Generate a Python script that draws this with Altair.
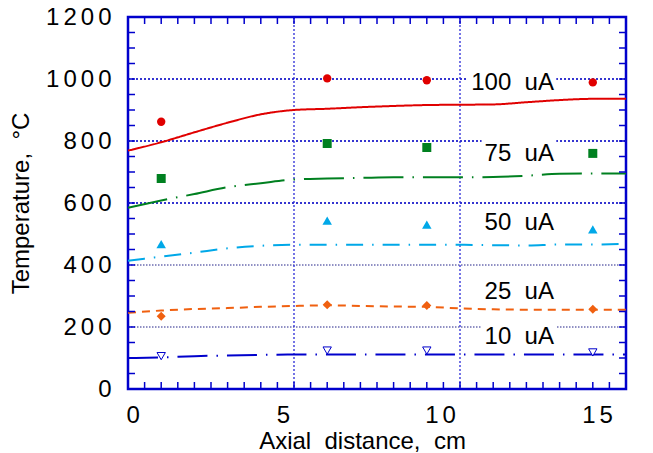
import altair as alt
import pandas as pd

# ---------------- data ----------------
pt_x = [1, 6, 9, 14]
pts_100 = [862, 1002, 996, 989]
pts_75 = [679, 792, 779, 760]
pts_50 = [467, 543, 530, 515]
pts_25 = [235, 272, 269, 257]
pts_10 = [106, 124, 124, 118]

line_x = [0, 1, 2, 3, 4, 5, 6, 7, 8, 9, 10, 11, 12, 13, 14, 15]
line_100 = [769, 796, 828, 859, 886, 900, 904, 909, 913, 916, 917, 918, 925, 932, 936, 936]
line_75 = [585, 608, 629, 651, 664, 676, 679, 681, 683, 683, 683, 684, 688, 694, 695, 695]
line_50 = [414, 427, 440, 454, 462, 465, 465, 465, 465, 465, 465, 464, 463, 466, 466, 468]
line_25 = [246, 253, 258, 261, 265, 268, 270, 268, 266, 265, 260, 257, 256, 256, 256, 256]
line_10 = [100, 102, 106, 108, 110, 111, 111, 111, 111, 111, 111, 111, 111, 111, 111, 111]

label_text = ["100\u00a0\u00a0uA", "75\u00a0\u00a0uA", "50\u00a0\u00a0uA", "25\u00a0\u00a0uA", "10\u00a0\u00a0uA"]
label_x = [12.83, 12.83, 12.83, 12.83, 12.83]
label_y = [987, 758, 535, 313, 168]

box_x1 = [10.2, 10.65, 10.65]
box_x2 = [12.9, 12.9, 12.9]
box_y1 = [950, 720, 130]
box_y2 = [1030, 815, 210]

grid_y_major = [600, 800, 1000]
grid_y_minor = [200, 400]
grid_x = [5, 10]
x_minor_ticks = [i * 0.5 for i in range(1, 30)]
y_minor_ticks = [i * 50 for i in range(1, 24)]
x_label_values = [0, 5, 10, 15]
y_label_values = [0, 200, 400, 600, 800, 1000, 1200]

# ---------------- styling ----------------
W, H = 498, 372
BLUE = "#0000cc"
FONT = "Liberation Sans"
SP = "\u2006"
spaced = "join(split(datum.label, ''), '" + SP + "')"


def xs():
    return alt.Scale(domain=[0, 15], nice=False, zero=False)


ys = alt.Scale(domain=[0, 1200], nice=False, zero=False)
YAX = alt.Axis(values=y_label_values, format="d", labelExpr=spaced, labelPadding=17,
               title="Temperature,\u00a0\u00a0°C", titlePadding=12)


def X(f="x"):
    return alt.X(f"{f}:Q", scale=xs(), axis=None)


def Y(f="y"):
    return alt.Y(f"{f}:Q", scale=ys, axis=YAX)


layers = []

# grid lines
layers.append(alt.Chart(pd.DataFrame({"y": grid_y_major})).mark_rule(
    color="#3535d0", strokeWidth=2, strokeDash=[2, 2]).encode(y=Y(), x=alt.value(0), x2=alt.value(W)))
layers.append(alt.Chart(pd.DataFrame({"y": grid_y_minor})).mark_rule(
    color="#222288", strokeWidth=1, strokeDash=[1.5, 1.5]).encode(y=Y(), x=alt.value(0), x2=alt.value(W)))
layers.append(alt.Chart(pd.DataFrame({"x": grid_x})).mark_rule(
    color="#2a2ad8", strokeWidth=1.3, strokeDash=[2, 2]).encode(x=X(), y=alt.value(0), y2=alt.value(H)))

# white boxes behind labels
layers.append(alt.Chart(pd.DataFrame({"x": box_x1, "x2": box_x2, "y": box_y1, "y2": box_y2})).mark_rect(
    color="white").encode(x=X(), x2="x2:Q", y=Y(), y2="y2:Q"))

# model lines
line_specs = [
    (line_100, "#e00000", [1, 0]),
    (line_75, "#008020", [40, 9, 1.5, 9]),
    (line_50, "#00a8e8", [17, 9, 1.5, 9]),
    (line_25, "#f06010", [8, 6]),
    (line_10, BLUE, [30, 9, 1.5, 9]),
]
for vals, col, dash in line_specs:
    layers.append(alt.Chart(pd.DataFrame({"x": line_x, "y": vals})).mark_line(
        interpolate="monotone", color=col, strokeWidth=2, strokeDash=dash).encode(x=X(), y=Y()))

# measured points
layers.append(alt.Chart(pd.DataFrame({"x": pt_x, "y": pts_100})).mark_point(
    shape="circle", filled=True, color="#e00000", size=70, opacity=1).encode(x=X(), y=Y()))
layers.append(alt.Chart(pd.DataFrame({"x": pt_x, "y": pts_75})).mark_point(
    shape="square", filled=True, color="#008020", size=81, opacity=1).encode(x=X(), y=Y()))
layers.append(alt.Chart(pd.DataFrame({"x": pt_x, "y": pts_50})).mark_point(
    shape="triangle-up", filled=True, color="#00a8e8", size=90, opacity=1).encode(x=X(), y=Y()))
layers.append(alt.Chart(pd.DataFrame({"x": pt_x, "y": pts_25})).mark_point(
    shape="diamond", filled=True, color="#f06010", size=81, opacity=1).encode(x=X(), y=Y()))
layers.append(alt.Chart(pd.DataFrame({"x": pt_x, "y": pts_10})).mark_point(
    shape="triangle-down", fill="white", fillOpacity=1, stroke=BLUE, strokeWidth=1,
    size=70, opacity=1).encode(x=X(), y=Y()))

# labels
layers.append(alt.Chart(pd.DataFrame({"x": label_x, "y": label_y, "t": label_text})).mark_text(
    align="right", baseline="middle", fontSize=24, font=FONT, color="black").encode(
    x=X(), y=Y(), text="t:N"))

# inner ticks on all four sides
layers.append(alt.Chart(pd.DataFrame({"x": x_minor_ticks})).mark_rule(
    color=BLUE, strokeWidth=1.5).encode(x=X(), y=alt.value(0), y2=alt.value(7)))
layers.append(alt.Chart(pd.DataFrame({"x": x_minor_ticks})).mark_rule(
    color=BLUE, strokeWidth=1.5).encode(x=X(), y=alt.value(H), y2=alt.value(H - 7)))
layers.append(alt.Chart(pd.DataFrame({"y": y_minor_ticks})).mark_rule(
    color=BLUE, strokeWidth=1.5).encode(y=Y(), x=alt.value(0), x2=alt.value(7)))
layers.append(alt.Chart(pd.DataFrame({"y": y_minor_ticks})).mark_rule(
    color=BLUE, strokeWidth=1.5).encode(y=Y(), x=alt.value(W), x2=alt.value(W - 7)))

# x axis labels (placed as in the reference, slightly compressed spacing)
layers.append(alt.Chart(pd.DataFrame({"x": x_label_values})).mark_point(opacity=0).encode(
    x=alt.X("x:Q", scale=alt.Scale(domain=[0, 15.86], nice=False, zero=False),
            axis=alt.Axis(values=x_label_values, orient="bottom", labelExpr=spaced,
                          labelOffset=-2, labelPadding=14,
                          title="Axial\u00a0\u00a0distance,\u00a0\u00a0cm", titlePadding=2,
                          titleX=234)),
    y=alt.value(0),
))

chart = alt.layer(*layers).resolve_scale(x="independent").properties(
    width=W, height=H,
    autosize=alt.AutoSizeParams(type="none"),
    padding={"left": 128, "top": 17, "right": 27, "bottom": 64},
).configure(font=FONT).configure_view(stroke=BLUE, strokeWidth=2.5).configure_axis(
    labelFont=FONT, titleFont=FONT, labelFontSize=24, titleFontSize=24,
    titleFontWeight="normal", labelColor="black", titleColor="black",
    grid=False, ticks=False, domain=False,
)

chart.save("out.html", embed_options={"renderer": "svg", "actions": False})
